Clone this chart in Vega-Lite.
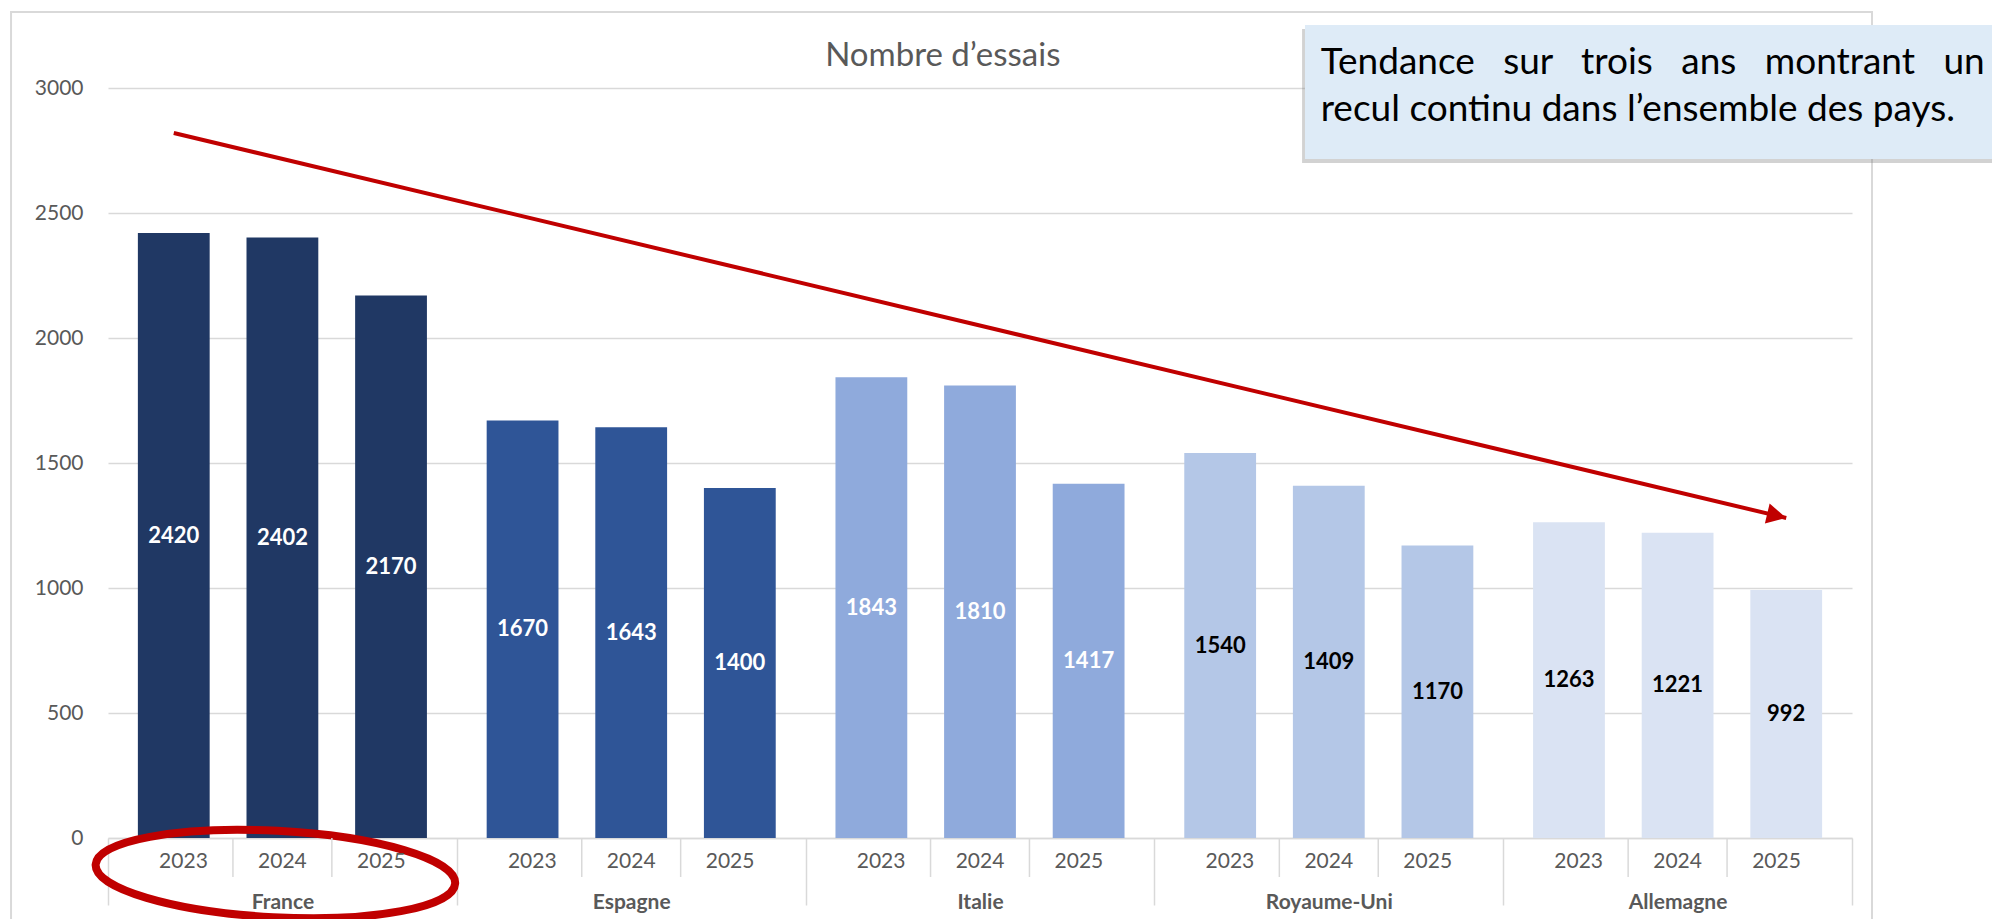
{
  "$schema": "https://vega.github.io/schema/vega-lite/v6.json",
  "autosize": "none",
  "width": 1744,
  "height": 750,
  "padding": {"left": 108, "top": 88, "right": 140, "bottom": 81},
  "background": "white",
  "datasets": {
    "bars": [
      {"country": "France", "year": "2023", "value": 2420},
      {"country": "France", "year": "2024", "value": 2402},
      {"country": "France", "year": "2025", "value": 2170},
      {"country": "Espagne", "year": "2023", "value": 1670},
      {"country": "Espagne", "year": "2024", "value": 1643},
      {"country": "Espagne", "year": "2025", "value": 1400},
      {"country": "Italie", "year": "2023", "value": 1843},
      {"country": "Italie", "year": "2024", "value": 1810},
      {"country": "Italie", "year": "2025", "value": 1417},
      {"country": "Royaume-Uni", "year": "2023", "value": 1540},
      {"country": "Royaume-Uni", "year": "2024", "value": 1409},
      {"country": "Royaume-Uni", "year": "2025", "value": 1170},
      {"country": "Allemagne", "year": "2023", "value": 1263},
      {"country": "Allemagne", "year": "2024", "value": 1221},
      {"country": "Allemagne", "year": "2025", "value": 992}
    ],
    "arrow": [
      {"country": "France", "year": "2023", "value": 2820},
      {"country": "Allemagne", "year": "2025", "value": 1280}
    ]
  },
  "layer": [
    {
      "layer": [
        {
          "layer": [
            {
              "data": {"name": "bars"},
              "mark": {"type": "bar"},
              "encoding": {
                "x": {"field": "country", "type": "nominal", "title": null,
                  "scale": {"domain": ["France", "Espagne", "Italie", "Royaume-Uni", "Allemagne"], "paddingInner": 0, "paddingOuter": 0},
                  "axis": {"title": null, "tickBand": "extent", "ticks": true, "tickSize": 67, "tickColor": "#D9D9D9", "tickWidth": 1.5, "domainColor": "#D9D9D9", "domainWidth": 1.5, "labelFont": "Lato", "labelFontSize": 21, "labelFontWeight": "bold", "labelColor": "#595959", "labelPadding": -3, "labelBaseline": "middle", "labelAngle": 0, "grid": false}},
                "xOffset": {"field": "year", "type": "nominal", "scale": {"type": "band", "domain": ["2023", "2024", "2025"], "paddingInner": 0.339, "paddingOuter": 0.275}},
                "y": {"field": "value", "type": "quantitative", "title": null,
                  "scale": {"domain": [0, 3000], "nice": false},
                  "axis": {"title": null, "values": [0, 500, 1000, 1500, 2000, 2500, 3000], "format": "d", "grid": true, "gridColor": "#D9D9D9", "gridWidth": 1.5, "domain": false, "ticks": false, "labelFont": "Lato", "labelFontSize": 21, "labelColor": "#595959", "labelPadding": 25}},
                "color": {"field": "country", "type": "nominal", "legend": null,
                  "scale": {"domain": ["France", "Espagne", "Italie", "Royaume-Uni", "Allemagne"], "range": ["#203864", "#2F5597", "#8FAADC", "#B4C7E7", "#DAE3F3"]}}
              }
            },
            {
              "data": {"name": "arrow"},
              "mark": {"type": "line", "color": "#C00000", "strokeWidth": 4},
              "encoding": {
                "x": {"field": "country", "type": "nominal", "title": null},
                "xOffset": {"field": "year", "type": "nominal"},
                "y": {"field": "value", "type": "quantitative", "title": null}
              }
            },
            {
              "data": {"name": "arrow"},
              "transform": [{"filter": "datum.country == 'Allemagne'"}],
              "mark": {"type": "point", "shape": "M0,0L-2,-1.05L-2,1.05Z", "size": 380, "angle": 13.4, "filled": true, "color": "#C00000", "opacity": 1},
              "encoding": {
                "x": {"field": "country", "type": "nominal", "title": null},
                "xOffset": {"field": "year", "type": "nominal"},
                "y": {"field": "value", "type": "quantitative", "title": null}
              }
            },
            {
              "data": {"values": [{}]},
              "mark": {"type": "point", "shape": "M-1,0A1,0.24 0 1,1 1,0A1,0.24 0 1,1 -1,0Z", "size": 129600, "filled": false, "stroke": "#C00000", "strokeWidth": 8, "opacity": 1, "angle": 3, "xOffset": -7},
              "encoding": {
                "x": {"datum": "France", "type": "nominal", "title": null},
                "y": {"datum": -144, "type": "quantitative", "title": null}
              }
            }
          ]
        },
        {
          "data": {"name": "bars"},
          "mark": {"type": "text", "font": "Lato", "fontWeight": "bold", "fontSize": 22, "baseline": "middle", "align": "center"},
          "encoding": {
            "x": {"field": "country", "type": "nominal", "title": null},
            "xOffset": {"field": "year", "type": "nominal", "scale": {"type": "band", "domain": ["2023", "2024", "2025"], "paddingInner": 0.339, "paddingOuter": 0.275}},
            "y": {"field": "value", "type": "quantitative", "scale": {"domain": [0, 6000], "nice": false}, "axis": null},
            "text": {"field": "value", "type": "quantitative", "format": "d"},
            "color": {"condition": {"test": "datum.country == 'France' || datum.country == 'Espagne' || datum.country == 'Italie'", "value": "#FFFFFF"}, "value": "#000000"}
          }
        },
        {
          "data": {"name": "bars"},
          "mark": {"type": "text", "font": "Lato", "fontSize": 21, "color": "#595959", "baseline": "middle", "align": "center"},
          "encoding": {
            "x": {"field": "country", "type": "nominal", "title": null},
            "xOffset": {"field": "year", "type": "nominal", "scale": {"type": "band", "domain": ["2023", "2024", "2025"], "paddingInner": 0, "paddingOuter": 0.263}},
            "y": {"datum": -96, "type": "quantitative", "scale": {"domain": [0, 3000], "nice": false}, "axis": null},
            "text": {"field": "year"}
          }
        },
        {
          "data": {"name": "bars"},
          "transform": [{"filter": "datum.year != '2023'"}],
          "mark": {"type": "rule", "color": "#D9D9D9", "strokeWidth": 1.5},
          "encoding": {
            "x": {"field": "country", "type": "nominal", "title": null},
            "xOffset": {"field": "year", "type": "nominal", "scale": {"type": "band", "domain": ["2024", "2025"], "paddingInner": 0, "paddingOuter": 0.763}},
            "y": {"datum": 0, "type": "quantitative", "scale": {"domain": [0, 3000], "nice": false}, "axis": null},
            "y2": {"datum": -156}
          }
        }
      ],
      "resolve": {"scale": {"xOffset": "independent", "y": "independent"}}
    },
    {
      "data": {"values": [{}]},
      "layer": [
        {
          "mark": {"type": "rect", "fillOpacity": 0, "stroke": "#D9D9D9", "strokeWidth": 2},
          "encoding": {
            "x": {"datum": -0.834, "type": "quantitative", "scale": {"domain": [0, 15], "nice": false, "zero": false}, "axis": null},
            "x2": {"datum": 15.172},
            "y": {"datum": 3304, "type": "quantitative", "scale": {"domain": [0, 3000], "nice": false}, "axis": null},
            "y2": {"datum": -500}
          }
        },
        {
          "mark": {"type": "text", "font": "Lato", "fontSize": 33, "color": "#595959", "align": "center", "baseline": "alphabetic", "text": "Nombre d’essais"},
          "encoding": {
            "x": {"datum": 7.18, "type": "quantitative"},
            "y": {"datum": 3088, "type": "quantitative"}
          }
        },
        {
          "mark": {"type": "rect", "fill": "#7F7F7F", "opacity": 0.35},
          "encoding": {
            "x": {"datum": 10.27, "type": "quantitative"},
            "x2": {"datum": 16.5},
            "y": {"datum": 3236, "type": "quantitative"},
            "y2": {"datum": 2700}
          }
        },
        {
          "mark": {"type": "rect", "fill": "#DEEBF7"},
          "encoding": {
            "x": {"datum": 10.295, "type": "quantitative"},
            "x2": {"datum": 16.5},
            "y": {"datum": 3252, "type": "quantitative"},
            "y2": {"datum": 2716}
          }
        },
        {
          "mark": {"type": "text", "font": "Lato", "fontSize": 37, "color": "#000000", "align": "left", "baseline": "alphabetic", "lineHeight": 47,
            "text": ["Tendance \u00a0\u00a0sur \u00a0\u00a0trois \u00a0\u00a0ans \u00a0\u00a0montrant \u00a0\u00a0un", "recul continu dans l’ensemble des pays."]},
          "encoding": {
            "x": {"datum": 10.43, "type": "quantitative"},
            "y": {"datum": 3056, "type": "quantitative"}
          }
        }
      ]
    }
  ],
  "resolve": {"scale": {"x": "independent", "y": "independent"}},
  "config": {"view": {"stroke": null}, "font": "Lato"}
}
